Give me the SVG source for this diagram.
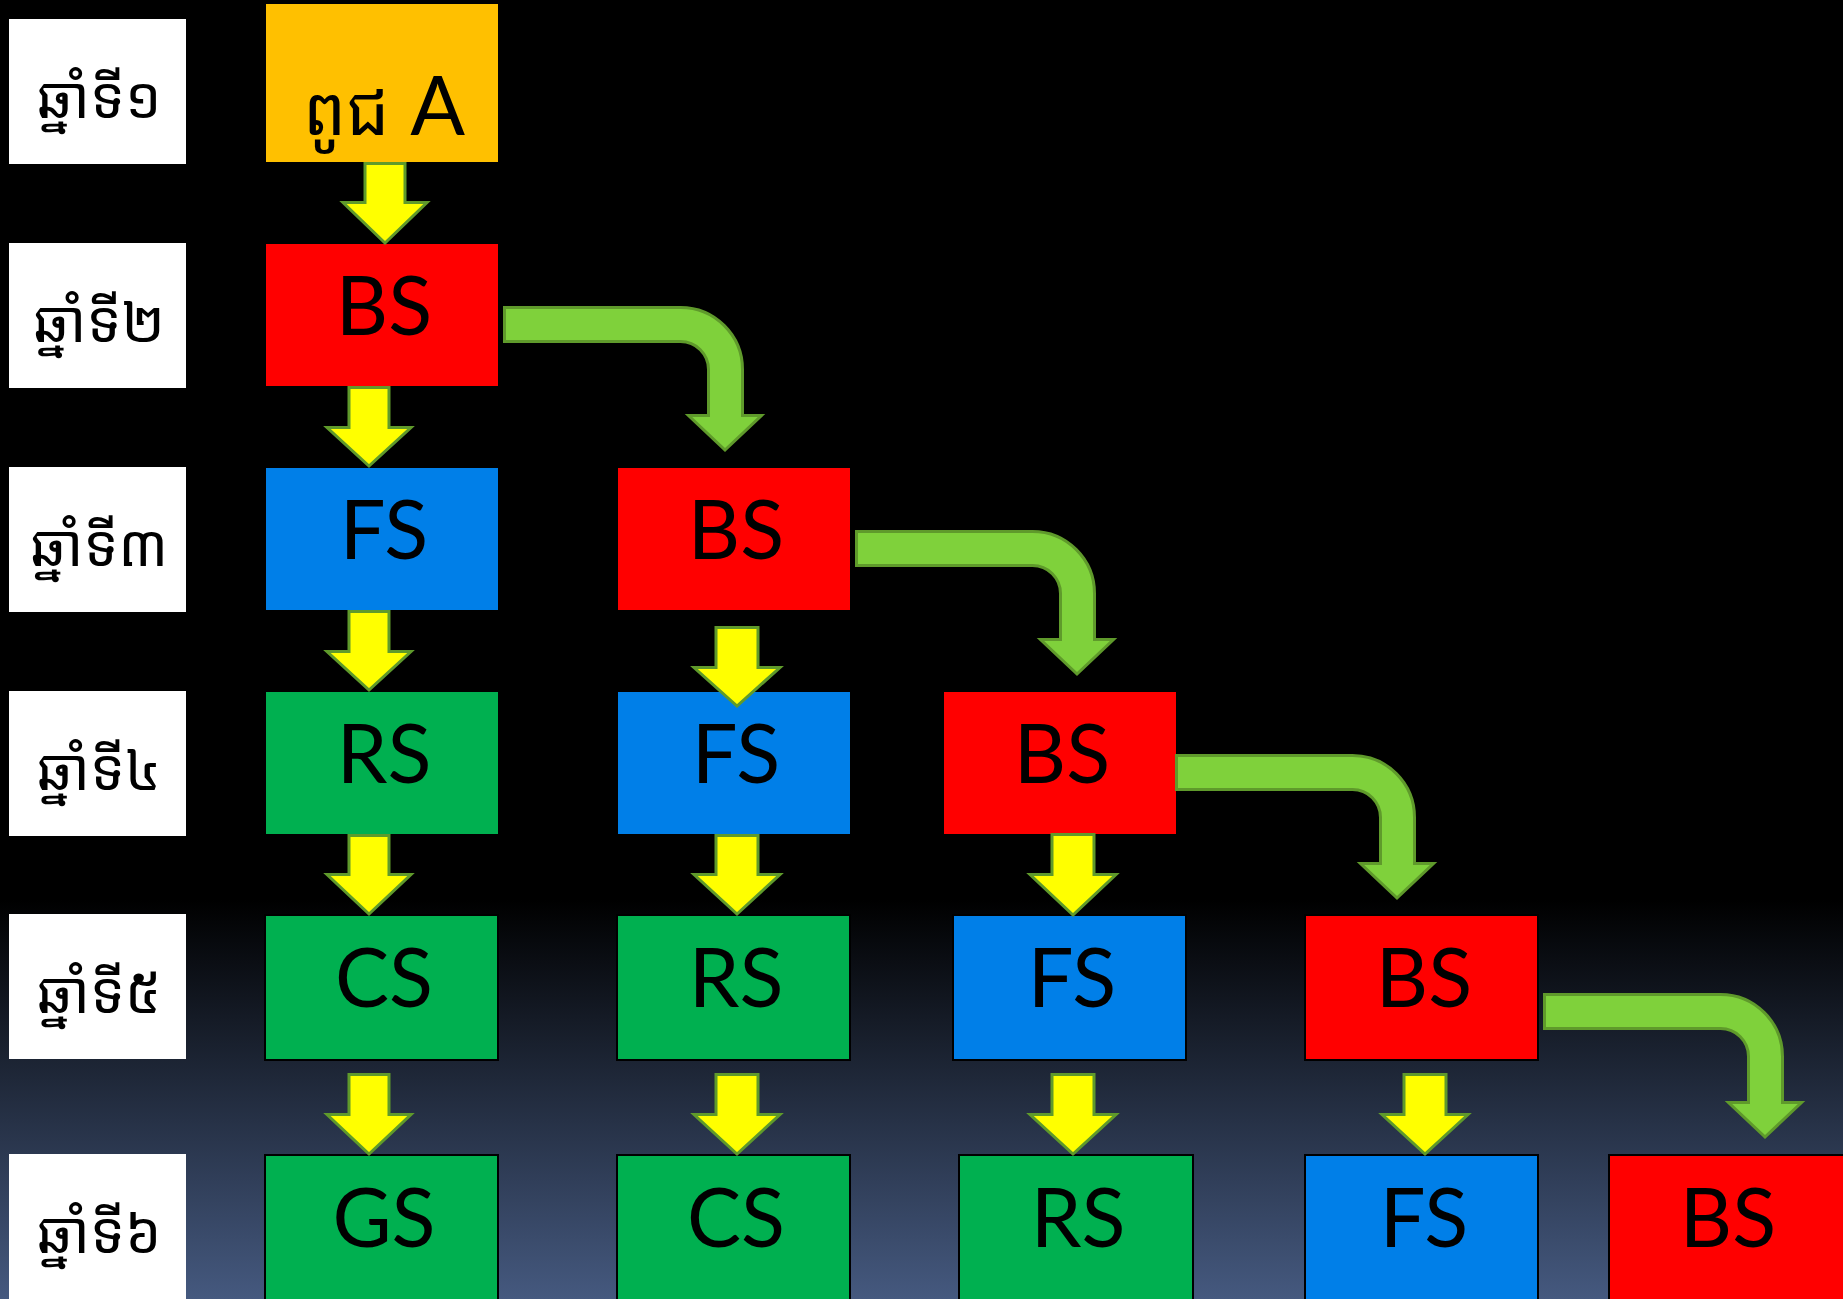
<svg xmlns="http://www.w3.org/2000/svg" width="1843" height="1299" viewBox="0 0 1843 1299">
<defs>
<linearGradient id="bg" gradientUnits="userSpaceOnUse" x1="0" y1="900" x2="0" y2="1299">
<stop offset="0" stop-color="#000000"/>
<stop offset="1" stop-color="#45597f"/>
</linearGradient>
<style>
.lbl{fill:#ffffff;}
.lt{font-family:"Noto Sans Khmer","Khmer OS","Khmer OS System","Noto Sans",sans-serif;font-size:58px;fill:#000;text-anchor:middle;}
.box{stroke:#000;stroke-width:2;}
.org{fill:#ffc000;}
.red{fill:#ff0000;}
.blu{fill:#007fe8;}
.grn{fill:#00b050;}
.nt{font-family:Lato,"Noto Sans Khmer","Khmer OS","Noto Sans",sans-serif;font-size:81px;fill:#000;text-anchor:middle;}
.km{font-family:"Noto Sans Khmer","Khmer OS","Noto Sans",sans-serif;font-size:68px;}
.ya{fill:#ffff00;stroke:#5f9a2b;stroke-width:3;}
.ga{fill:#7fd13b;stroke:#5f9a2b;stroke-width:3;}
</style>
</defs>
<rect x="0" y="0" width="1843" height="1299" fill="url(#bg)"/>

<g id="labels">
<g id="label1"><rect class="lbl" x="9" y="19" width="177" height="145"/><text class="lt" x="99" y="118">ឆ្នាំទី១</text></g>
<g id="label2"><rect class="lbl" x="9" y="243" width="177" height="145"/><text class="lt" x="99" y="342">ឆ្នាំទី២</text></g>
<g id="label3"><rect class="lbl" x="9" y="467" width="177" height="145"/><text class="lt" x="99" y="566">ឆ្នាំទី៣</text></g>
<g id="label4"><rect class="lbl" x="9" y="691" width="177" height="145"/><text class="lt" x="99" y="790">ឆ្នាំទី៤</text></g>
<g id="label5"><rect class="lbl" x="9" y="914" width="177" height="145"/><text class="lt" x="99" y="1013">ឆ្នាំទី៥</text></g>
<g id="label6"><rect class="lbl" x="9" y="1154" width="177" height="150"/><text class="lt" x="99" y="1253">ឆ្នាំទី៦</text></g>
</g>

<g id="nodes">
<g id="n-seedA"><rect class="box org" x="265" y="3" width="234" height="160"/><text class="nt" x="384" y="135"><tspan class="km">ពូជ</tspan> A</text></g>
<g id="n-r2c1"><rect class="box red" x="265" y="243" width="234" height="144"/><text class="nt" x="384" y="335">BS</text></g>
<g id="n-r3c1"><rect class="box blu" x="265" y="467" width="234" height="144"/><text class="nt" x="384" y="559">FS</text></g>
<g id="n-r3c2"><rect class="box red" x="617" y="467" width="234" height="144"/><text class="nt" x="736" y="559">BS</text></g>
<g id="n-r4c1"><rect class="box grn" x="265" y="691" width="234" height="144"/><text class="nt" x="384" y="783">RS</text></g>
<g id="n-r4c2"><rect class="box blu" x="617" y="691" width="234" height="144"/><text class="nt" x="736" y="783">FS</text></g>
<g id="n-r4c3"><rect class="box red" x="943" y="691" width="234" height="144"/><text class="nt" x="1062" y="783">BS</text></g>
<g id="n-r5c1"><rect class="box grn" x="265" y="915" width="233" height="145"/><text class="nt" x="384" y="1007">CS</text></g>
<g id="n-r5c2"><rect class="box grn" x="617" y="915" width="233" height="145"/><text class="nt" x="736" y="1007">RS</text></g>
<g id="n-r5c3"><rect class="box blu" x="953" y="915" width="233" height="145"/><text class="nt" x="1072" y="1007">FS</text></g>
<g id="n-r5c4"><rect class="box red" x="1305" y="915" width="233" height="145"/><text class="nt" x="1424" y="1007">BS</text></g>
<g id="n-r6c1"><rect class="box grn" x="265" y="1155" width="233" height="150"/><text class="nt" x="384" y="1247">GS</text></g>
<g id="n-r6c2"><rect class="box grn" x="617" y="1155" width="233" height="150"/><text class="nt" x="736" y="1247">CS</text></g>
<g id="n-r6c3"><rect class="box grn" x="959" y="1155" width="234" height="150"/><text class="nt" x="1078" y="1247">RS</text></g>
<g id="n-r6c4"><rect class="box blu" x="1305" y="1155" width="233" height="150"/><text class="nt" x="1424" y="1247">FS</text></g>
<g id="n-r6c5"><rect class="box red" x="1609" y="1155" width="240" height="150"/><text class="nt" x="1728" y="1247">BS</text></g>
</g>

<g id="connectors">
<path class="ya" d="M365 163.5H405V202.5H427L385 243L343 202.5H365Z"/>
<path class="ya" d="M349 387.5H389V427.5H411L369 466L327 427.5H349Z"/>
<path class="ya" d="M349 611.5H389V651.5H411L369 690L327 651.5H349Z"/>
<path class="ya" d="M349 835.5H389V874.5H411L369 914L327 874.5H349Z"/>
<path class="ya" d="M349 1074.5H389V1114.5H411L369 1154L327 1114.5H349Z"/>
<path class="ya" d="M716 627.5H758V667.5H780L737 706L694 667.5H716Z"/>
<path class="ya" d="M716 835.5H758V874.5H780L737 914L694 874.5H716Z"/>
<path class="ya" d="M716 1074.5H758V1114.5H780L737 1154L694 1114.5H716Z"/>
<path class="ya" d="M1052 834.5H1094V874.5H1116L1073 915L1030 874.5H1052Z"/>
<path class="ya" d="M1052 1074.5H1094V1114.5H1116L1073 1154L1030 1114.5H1052Z"/>
<path class="ya" d="M1404 1074.5H1446V1114.5H1468L1425 1154L1382 1114.5H1404Z"/>
<path class="ga" d="M504.5 307.5H680.5A62 62 0 0 1 742.5 369.5V415.5H761.5L725 450L688.5 415.5H708.5V369.5A28 28 0 0 0 680.5 341.5H504.5Z"/>
<path class="ga" d="M856.5 531.5H1032.5A62 62 0 0 1 1094.5 593.5V639.5H1113.5L1077 674L1040.5 639.5H1060.5V593.5A28 28 0 0 0 1032.5 565.5H856.5Z"/>
<path class="ga" d="M1176.5 755.5H1352.5A62 62 0 0 1 1414.5 817.5V863.5H1433.5L1397 898L1360.5 863.5H1380.5V817.5A28 28 0 0 0 1352.5 789.5H1176.5Z"/>
<path class="ga" d="M1544.5 994.5H1720.5A62 62 0 0 1 1782.5 1056.5V1102.5H1801.5L1765 1137L1728.5 1102.5H1748.5V1056.5A28 28 0 0 0 1720.5 1028.5H1544.5Z"/>
</g>
</svg>
